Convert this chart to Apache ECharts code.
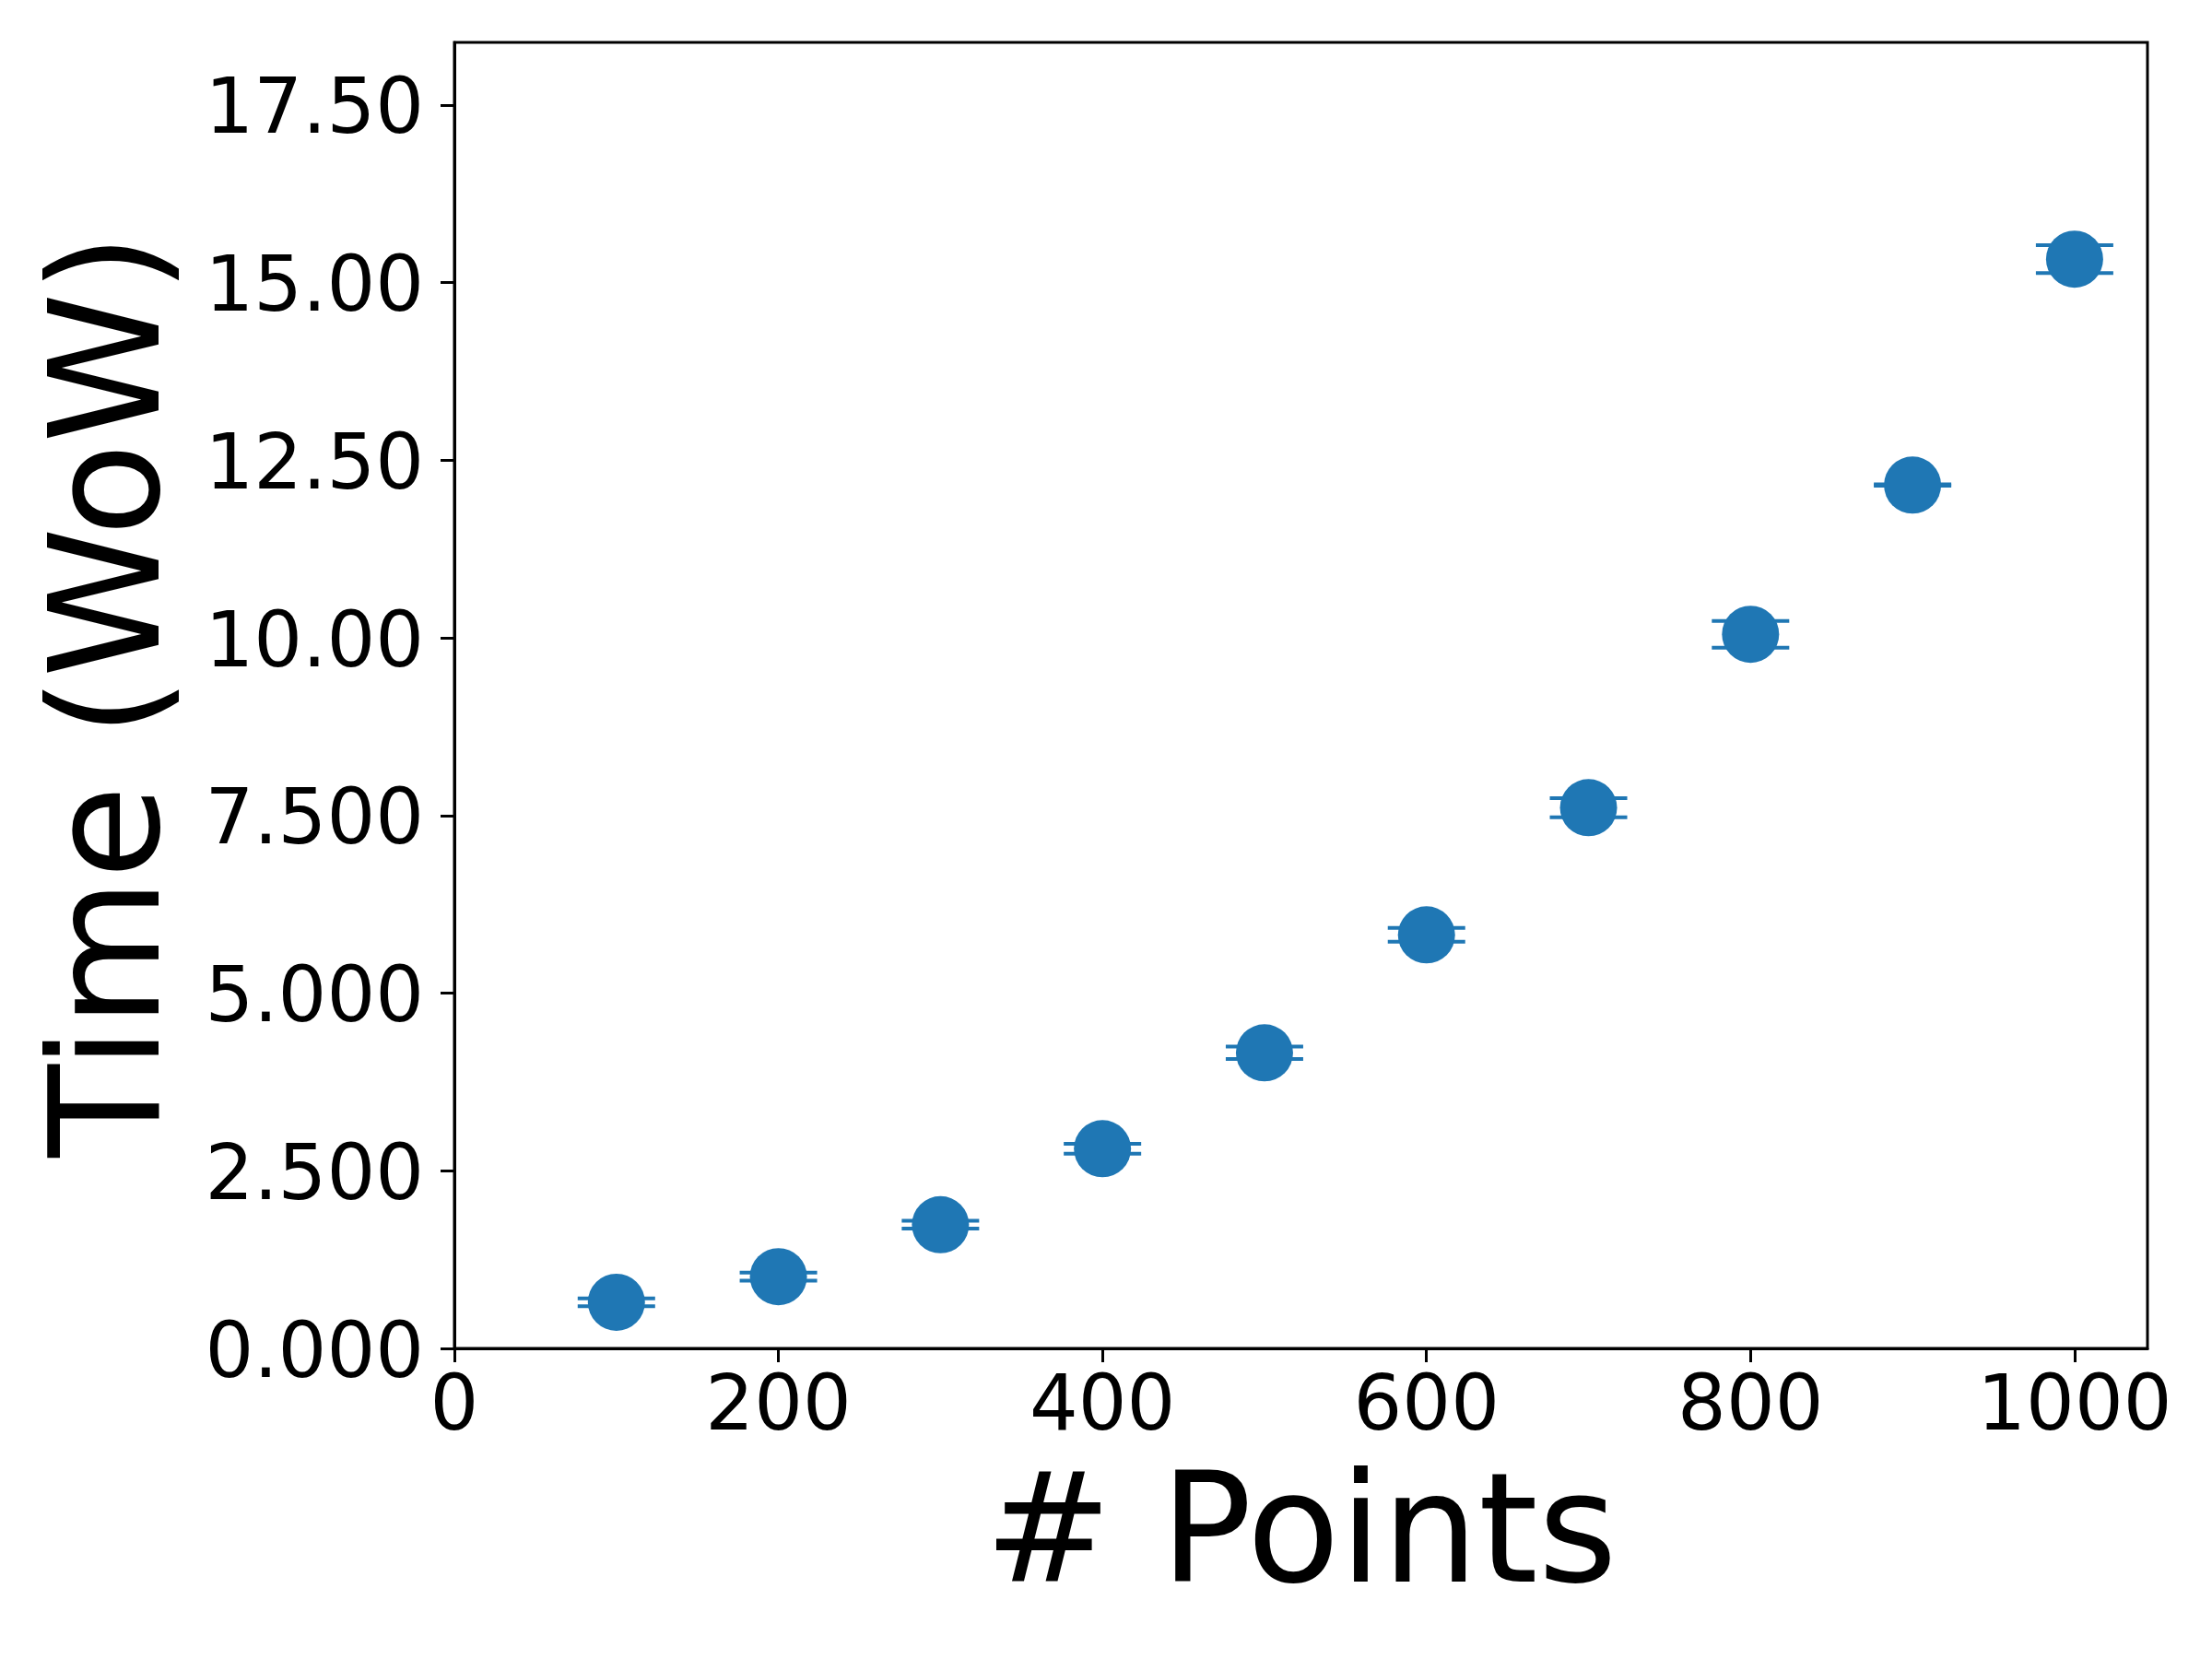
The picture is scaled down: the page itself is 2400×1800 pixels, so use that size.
<!DOCTYPE html>
<html>
<head>
<meta charset="utf-8">
<script src="https://cdn.jsdelivr.net/npm/echarts@6/dist/echarts.min.js"></script>
<style>html,body{margin:0;padding:0;background:#fff}#chart{width:2400px;height:1800px}</style>
</head>
<body>
<div id="chart"></div>
<script>
const xPoints = [100, 200, 300, 400, 500, 600, 700, 800, 900, 1000];
const timeMean = [0.65, 1.01, 1.74, 2.81, 4.16, 5.82, 7.61, 10.05, 12.15, 15.33];
const timeErr = [0.055, 0.057, 0.055, 0.071, 0.087, 0.097, 0.134, 0.188, 0.01, 0.195];
const xTicks = [0, 200, 400, 600, 800, 1000];
const yTicks = [0, 2.5, 5, 7.5, 10, 12.5, 15, 17.5];
const yTickLabels = ['0.000', '2.500', '5.000', '7.500', '10.00', '12.50', '15.00', '17.50'];

const color = '#1f77b4';
const font = 'DejaVu Sans';
const chart = echarts.init(document.getElementById('chart'), null, {renderer: 'canvas'});

const scatterData = xPoints.map((x, i) => [x, timeMean[i]]);
const errData = xPoints.map((x, i) => [x, timeMean[i] - timeErr[i], timeMean[i] + timeErr[i]]);

chart.setOption({
  animation: false,
  backgroundColor: '#ffffff',
  grid: {
    left: 493, right: 70, top: 46, bottom: 337,
    show: true, borderColor: '#000', borderWidth: 3, backgroundColor: 'transparent',
    containLabel: false, outerBoundsMode: 'none'
  },
  xAxis: {
    type: 'value', min: 0, max: 1045,
    name: '# Points', nameLocation: 'middle', nameGap: 128,
    nameTextStyle: {fontFamily: font, fontSize: 165, color: '#000'},
    axisLine: {show: true, lineStyle: {color: '#000', width: 3}},
    axisTick: {show: true, length: 15, lineStyle: {color: '#000', width: 3}, customValues: xTicks},
    axisLabel: {fontFamily: font, fontSize: 83, color: '#000', margin: 25, customValues: xTicks,
      formatter: v => String(v)},
    splitLine: {show: false}
  },
  yAxis: {
    type: 'value', min: 0, max: 18.38,
    name: 'Time (WoW)', nameLocation: 'middle', nameGap: 281, nameRotate: 90,
    nameTextStyle: {fontFamily: font, fontSize: 165, color: '#000'},
    axisLine: {show: true, lineStyle: {color: '#000', width: 3}},
    axisTick: {show: true, length: 15, lineStyle: {color: '#000', width: 3}, customValues: yTicks},
    axisLabel: {fontFamily: font, fontSize: 83, color: '#000', margin: 33, customValues: yTicks,
      verticalAlign: 'top', lineHeight: 18,
      formatter: v => { const i = yTicks.findIndex(t => Math.abs(t - v) < 1e-6); return i >= 0 ? yTickLabels[i] : ''; }},
    splitLine: {show: false}
  },
  series: [
    {
      type: 'custom',
      data: errData,
      z: 2,
      renderItem: function (params, api) {
        const x = api.value(0);
        const lo = api.coord([x, api.value(1)]);
        const hi = api.coord([x, api.value(2)]);
        const half = 42;
        const style = {stroke: color, lineWidth: 4};
        return {
          type: 'group',
          children: [
            {type: 'line', shape: {x1: lo[0], y1: lo[1], x2: hi[0], y2: hi[1]}, style: style},
            {type: 'line', shape: {x1: lo[0] - half, y1: lo[1], x2: lo[0] + half, y2: lo[1]}, style: style},
            {type: 'line', shape: {x1: hi[0] - half, y1: hi[1], x2: hi[0] + half, y2: hi[1]}, style: style}
          ]
        };
      }
    },
    {
      type: 'scatter',
      data: scatterData,
      symbol: 'circle',
      symbolSize: 62,
      itemStyle: {color: color, opacity: 1},
      z: 3
    }
  ]
});
</script>
</body>
</html>
